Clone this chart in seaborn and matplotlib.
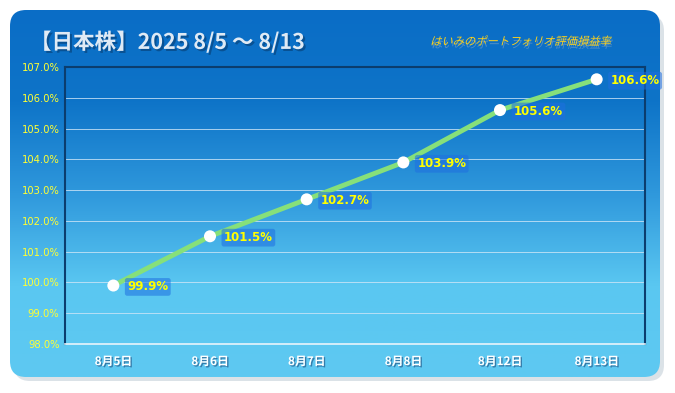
import numpy as np
import pandas as pd
import matplotlib
matplotlib.use("Agg")
import matplotlib.pyplot as plt
import matplotlib.patheffects as pe
from matplotlib.patches import FancyBboxPatch, PathPatch
from matplotlib.colors import LinearSegmentedColormap
from matplotlib.textpath import TextPath
from matplotlib.font_manager import FontProperties
from matplotlib.transforms import Affine2D
import seaborn as sns

dates = ["8月5日", "8月6日", "8月7日", "8月8日", "8月12日", "8月13日"]
values = [99.9, 101.5, 102.7, 103.9, 105.6, 106.6]
yticks = [98, 99, 100, 101, 102, 103, 104, 105, 106, 107]
title = "【日本株】2025 8/5 ～ 8/13"
subtitle = "はいみのポートフォリオ評価損益率"

sns.set_theme(style="white")
plt.rcParams['font.family'] = ['Noto Sans CJK JP', 'DejaVu Sans']

W, H = 675, 393
fig = plt.figure(figsize=(W / 100, H / 100), dpi=100)
fig.patch.set_facecolor("white")

# background panel
bg = fig.add_axes([0, 0, 1, 1])
bg.set_xlim(0, W)
bg.set_ylim(H, 0)
bg.axis("off")
shadow = FancyBboxPatch((14, 15), 650, 366, boxstyle="round,pad=0,rounding_size=16",
                        facecolor="#d3dbe2", edgecolor="none", alpha=0.8)
bg.add_patch(shadow)
panel = FancyBboxPatch((10, 10), 650, 367, boxstyle="round,pad=0,rounding_size=16",
                       facecolor="none", edgecolor="none")
bg.add_patch(panel)
cmap = LinearSegmentedColormap.from_list("g", ["#0a6dc6", "#0e74c8", "#2f98dc", "#5ac7f1", "#5ec9f1"])
grad = np.linspace(0, 1, 256).reshape(-1, 1)
im = bg.imshow(grad, cmap=cmap, extent=(10, 660, 377, 10), aspect="auto", zorder=1)
im.set_clip_path(panel)

bg.text(30, 42, title, color="#dfeaf5", fontsize=15.5, fontweight="bold", va="center", ha="left",
        zorder=5, path_effects=[pe.withSimplePatchShadow(offset=(1.5, -1.5), shadow_rgbFace="#08457e", alpha=0.7)])

# italic subtitle via skewed text path
tp = TextPath((0, 0), subtitle, size=11.3, prop=FontProperties(family="Noto Sans CJK JP"))
tr_sh = Affine2D().skew_deg(15, 0).scale(1, -1).translate(431, 48) + bg.transData
tr = Affine2D().skew_deg(15, 0).scale(1, -1).translate(430, 45) + bg.transData
bg.add_patch(PathPatch(tp, transform=tr_sh, facecolor="#7fa3c4", edgecolor="none", alpha=0.6, zorder=5))
bg.add_patch(PathPatch(tp, transform=tr, facecolor="#ffd21a", edgecolor="none", zorder=6))

# chart axes
ax = fig.add_axes([65 / W, 1 - 344 / H, 580 / W, 277 / H])
ax.patch.set_alpha(0)
df = pd.DataFrame({"x": np.arange(len(dates)), "v": values})
sns.lineplot(data=df, x="x", y="v", ax=ax, color="#86e07a", linewidth=3.5, zorder=3)
ax.scatter(df["x"], df["v"], s=75, color="white", zorder=4, edgecolors="none")

for xi, v in zip(df["x"], df["v"]):
    ax.annotate(f"{v:.1f}%", (xi, v), xytext=(10, -1), textcoords="offset points",
                color="#ffff00", fontsize=8.5, fontweight="bold", va="center", ha="left", zorder=5,
                family=["DejaVu Sans"],
                bbox=dict(boxstyle="round,pad=0.2", facecolor="#1f6fe0", edgecolor="none", alpha=0.55))

ax.set_xlim(-0.5, len(dates) - 0.5)
ax.set_ylim(98, 107)
ax.set_yticks(yticks)
ax.set_yticklabels([f"{t:.1f}%" for t in yticks], color="#ffff33", fontsize=7.2, family=["DejaVu Sans"])
ax.set_xticks(df["x"])
ax.set_xticklabels(dates, color="white", fontsize=8.5, fontweight="bold")
for lbl in ax.get_xticklabels():
    lbl.set_path_effects([pe.withSimplePatchShadow(offset=(1, -1), shadow_rgbFace="#2a6a9a", alpha=0.8)])
ax.set_xticks(np.arange(-0.5, len(dates)), minor=True)
ax.tick_params(axis="x", which="major", length=0, pad=8)
ax.tick_params(axis="x", which="minor", length=4, color="#e8f4fb", width=1, direction="out")
ax.tick_params(axis="y", length=0, pad=4)
ax.set_xlabel("")
ax.set_ylabel("")
for t in yticks[1:-1]:
    ax.axhline(t, color="#cfe6f7", linewidth=0.7, alpha=0.8, zorder=1)
for side in ["left", "right", "top"]:
    ax.spines[side].set_color("#0b3d6e")
    ax.spines[side].set_linewidth(1.5)
ax.spines["bottom"].set_color("#e8f4fb")
ax.spines["bottom"].set_linewidth(1.2)

fig.savefig("out.png", dpi=100)
